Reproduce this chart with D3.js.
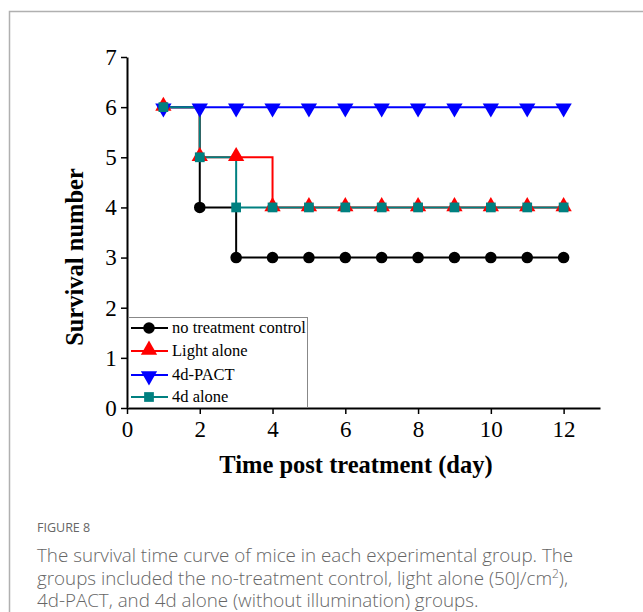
<!DOCTYPE html>
<html>
<head>
<meta charset="utf-8">
<script src="https://cdn.jsdelivr.net/npm/d3@7"></script>
<style>
  body { margin: 0; background: #fff; }
  svg { display: block; }
</style>
</head>
<body>
<script>
// survival chart, figure 8

var days = [1, 2, 3, 4, 5, 6, 7, 8, 9, 10, 11, 12];
var controlVals = [6, 4, 3, 3, 3, 3, 3, 3, 3, 3, 3, 3];
var lightVals = [6, 5, 5, 4, 4, 4, 4, 4, 4, 4, 4, 4];
var pactVals = [6, 6, 6, 6, 6, 6, 6, 6, 6, 6, 6, 6];
var aloneVals = [6, 5, 4, 4, 4, 4, 4, 4, 4, 4, 4, 4];
var seriesNames = ['no treatment control', 'Light alone', '4d-PACT', '4d alone'];
var xTicks = [0, 2, 4, 6, 8, 10, 12];
var yTicks = [0, 1, 2, 3, 4, 5, 6, 7];

var series = [
  {name: seriesNames[0], vals: controlVals, color: '#000000', sym: 'circle'},
  {name: seriesNames[1], vals: lightVals, color: '#ff0000', sym: 'up'},
  {name: seriesNames[2], vals: pactVals, color: '#0000ff', sym: 'down'},
  {name: seriesNames[3], vals: aloneVals, color: '#008080', sym: 'square'}
];

var W = 643, H = 612;
var svg = d3.select('body').append('svg').attr('width', W).attr('height', H);

// panel frame
svg.append('path').attr('d', 'M9.5,' + H + 'V11.5H' + W)
  .attr('fill', 'none').attr('stroke', '#b0b0b0').attr('stroke-width', 1.5);

var x = d3.scaleLinear().domain([0, 13]).range([127, 600]);
var y = d3.scaleLinear().domain([0, 7]).range([408, 57]);

var serif = '"Liberation Serif", "Times New Roman", serif';

// axes
var xAxis = svg.append('g').attr('transform', 'translate(0,408)')
  .call(d3.axisBottom(x).tickValues(xTicks).tickFormat(d3.format('d')).tickSize(6).tickSizeOuter(0));
var yAxis = svg.append('g').attr('transform', 'translate(127,0)')
  .call(d3.axisLeft(y).tickValues(yTicks).tickFormat(d3.format('d')).tickSize(6).tickSizeOuter(0));

[xAxis, yAxis].forEach(function(a) {
  a.select('.domain').attr('stroke', '#000').attr('stroke-width', 2);
  a.selectAll('.tick line').attr('stroke', '#000').attr('stroke-width', 1.5);
  a.selectAll('.tick text').attr('font-family', serif).attr('font-size', 23).attr('fill', '#000');
});
xAxis.selectAll('.tick text').attr('dy', '0.85em');
yAxis.selectAll('.tick text').attr('dx', '-0.05em');

// step lines
var line = d3.line()
  .x(function(d) { return x(d[0]); })
  .y(function(d) { return y(d[1]); })
  .curve(d3.curveStepAfter);

var symType = {circle: d3.symbolCircle, up: d3.symbolTriangle, down: d3.symbolTriangle, square: d3.symbolSquare};
var symSize = {circle: 105, up: 115, down: 115, square: 95};

function drawSymbol(g, s, cx, cy) {
  g.append('path')
    .attr('d', d3.symbol().type(symType[s.sym]).size(symSize[s.sym])())
    .attr('transform', 'translate(' + cx + ',' + (s.sym == 'down' ? cy + 1 : s.sym == 'up' ? cy - 1 : cy) + ')' + (s.sym == 'down' ? ' rotate(180)' : ''))
    .attr('fill', s.color);
}

series.forEach(function(s) {
  var pts = days.map(function(d, i) { return [d, s.vals[i]]; });
  svg.append('path').datum(pts).attr('d', line)
    .attr('fill', 'none').attr('stroke', s.color).attr('stroke-width', 2);
});
series.forEach(function(s) {
  var g = svg.append('g');
  days.forEach(function(d, i) { drawSymbol(g, s, x(d), y(s.vals[i])); });
});

// legend
var lg = svg.append('g');
lg.append('rect').attr('x', 128.5).attr('y', 317.5).attr('width', 179).attr('height', 90)
  .attr('fill', '#fff').attr('stroke', '#888').attr('stroke-width', 1);
var legY = [328, 351, 375, 397];
series.forEach(function(s, i) {
  lg.append('line').attr('x1', 131).attr('x2', 168).attr('y1', legY[i]).attr('y2', legY[i])
    .attr('stroke', s.color).attr('stroke-width', 2);
  drawSymbol(lg, s, 149, legY[i]);
  lg.append('text').attr('x', 172).attr('y', legY[i]).attr('dy', '0.33em')
    .attr('font-family', serif).attr('font-size', 16.5).attr('fill', '#000').text(s.name);
});

// axis titles
svg.append('text').attr('transform', 'translate(83,257) rotate(-90)')
  .attr('text-anchor', 'middle').attr('font-family', serif).attr('font-weight', 'bold')
  .attr('font-size', 24.5).text('Survival number');
svg.append('text').attr('x', 356).attr('y', 473)
  .attr('text-anchor', 'middle').attr('font-family', serif).attr('font-weight', 'bold')
  .attr('font-size', 24.5).text('Time post treatment (day)');

// caption
var sans = '"Open Sans", "Noto Sans", sans-serif';
svg.append('text').attr('x', 37).attr('y', 532).attr('font-family', sans)
  .attr('font-size', 12.5).attr('fill', '#666').text('FIGURE 8');
var cap = svg.append('text').attr('font-family', sans).attr('font-size', 18.8)
  .attr('fill', '#666').attr('font-weight', 300);
cap.append('tspan').attr('x', 37).attr('y', 562)
  .text('The survival time curve of mice in each experimental group. The');
cap.append('tspan').attr('x', 37).attr('y', 585)
  .text('groups included the no-treatment control, light alone (50J/cm');
cap.append('tspan').attr('font-size', 12).attr('dy', -7).text('2');
cap.append('tspan').attr('dy', 7).text('),');
cap.append('tspan').attr('x', 37).attr('y', 607)
  .text('4d-PACT, and 4d alone (without illumination) groups.');
</script>
</body>
</html>
